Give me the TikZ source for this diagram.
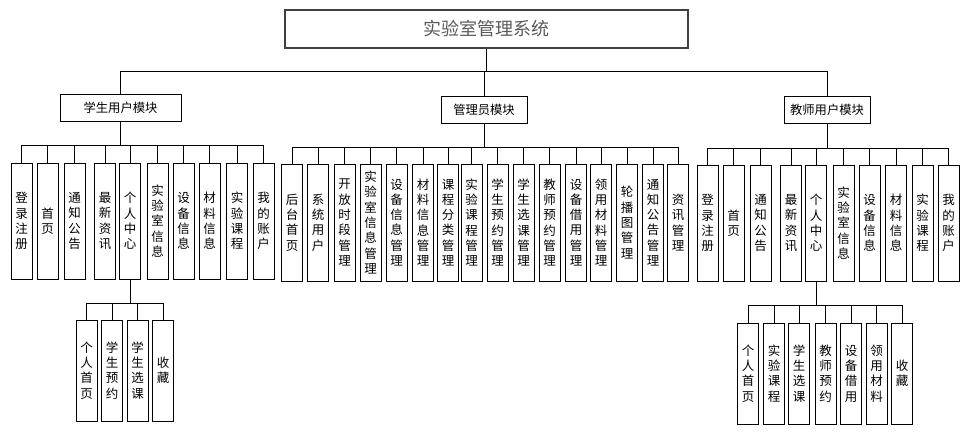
\documentclass[tikz,border=0pt]{standalone}
\usepackage{fontspec}
\newfontfamily\cjk{Noto Sans CJK SC}
\begin{document}
\begin{tikzpicture}[x=1pt,y=-1pt,
  line width=1pt,
  kid/.style={draw, minimum width=21pt, minimum height=116pt, inner sep=0pt, align=center,
    font=\cjk\fontsize{12.5}{15.3}\selectfont},
  subkid/.style={kid, minimum height=101pt},
  modbox/.style={draw, minimum height=27pt, inner sep=2pt, font=\cjk\fontsize{12.3}{14}\selectfont},
  titlebox/.style={draw=black!75, line width=1.2pt, minimum width=403pt, minimum height=38pt,
    font=\cjk\fontsize{18}{20}\selectfont, text=black!65}
]
\useasboundingbox (0,0) rectangle (973,434);

% top
\node[titlebox] (top) at (486.5,29) {实验室管理系统};
\coordinate (tbus) at (0,71);

% modules
\node[modbox, minimum width=121pt] (lm) at (120.5,107.5) {学生用户模块};
\node[modbox, minimum width=86pt] (am) at (484,110) {管理员模块};
\node[modbox, minimum width=86pt] (tm) at (827,110) {教师用户模块};

\draw (top.south) -- (top.south |- tbus);
\draw (lm.north |- tbus) -- (tm.north |- tbus);
\foreach \m in {lm,am,tm} \draw (\m.north) -- (\m.north |- tbus);

% student children
\coordinate (lbus) at (0,145);
\foreach \x/\t [count=\i] in {
  21.5/登\\录\\注\\册,
  47.5/首\\页,
  74.5/通\\知\\公\\告,
  105/最\\新\\资\\讯,
  130/个\\人\\中\\心,
  157.5/实\\验\\室\\信\\息,
  183.5/设\\备\\信\\息,
  209.5/材\\料\\信\\息,
  237/实\\验\\课\\程,
  263.5/我\\的\\账\\户}
  \node[kid] (l\i) at (\x,221) {\t};
\draw (lm.south) -- (lm.south |- lbus);
\draw (l1.north |- lbus) -- (l10.north |- lbus);
\foreach \i in {1,...,10} \draw (l\i.north) -- (l\i.north |- lbus);

% student personal center
\coordinate (lsbus) at (0,303);
\foreach \x/\t [count=\i] in {
  86.5/个\\人\\首\\页,
  112/学\\生\\预\\约,
  137.5/学\\生\\选\\课,
  163/收\\藏}
  \node[subkid] (ls\i) at (\x,370.5) {\t};
\draw (l5.south) -- (l5.south |- lsbus);
\draw (ls1.north |- lsbus) -- (ls4.north |- lsbus);
\foreach \i in {1,...,4} \draw (ls\i.north) -- (ls\i.north |- lsbus);

% admin children
\coordinate (abus) at (0,147);
\foreach \x/\t [count=\i] in {
  292/后\\台\\首\\页,
  318/系\\统\\用\\户,
  344.5/开\\放\\时\\段\\管\\理,
  370.5/实\\验\\室\\信\\息\\管\\理,
  396.5/设\\备\\信\\息\\管\\理,
  423/材\\料\\信\\息\\管\\理,
  448/课\\程\\分\\类\\管\\理,
  471.5/实\\验\\课\\程\\管\\理,
  497.5/学\\生\\预\\约\\管\\理,
  523.5/学\\生\\选\\课\\管\\理,
  549.5/教\\师\\预\\约\\管\\理,
  576/设\\备\\借\\用\\管\\理,
  601/领\\用\\材\\料\\管\\理,
  627/轮\\播\\图\\管\\理,
  653/通\\知\\公\\告\\管\\理,
  678/资\\讯\\管\\理}
  \node[kid, minimum height=117pt] (a\i) at (\x,222.5) {\t};
\draw (am.south) -- (am.south |- abus);
\draw (a1.north |- abus) -- (a16.north |- abus);
\foreach \i in {1,...,16} \draw (a\i.north) -- (a\i.north |- abus);

% teacher children
\coordinate (tbus2) at (0,148);
\foreach \x/\t [count=\i] in {
  707.5/登\\录\\注\\册,
  733.5/首\\页,
  760.5/通\\知\\公\\告,
  791/最\\新\\资\\讯,
  816/个\\人\\中\\心,
  843.5/实\\验\\室\\信\\息,
  869.5/设\\备\\信\\息,
  896/材\\料\\信\\息,
  922.5/实\\验\\课\\程,
  948.5/我\\的\\账\\户}
  \node[kid] (t\i) at (\x,223) {\t};
\draw (tm.south) -- (tm.south |- tbus2);
\draw (t1.north |- tbus2) -- (t10.north |- tbus2);
\foreach \i in {1,...,10} \draw (t\i.north) -- (t\i.north |- tbus2);

% teacher personal center
\coordinate (tsbus) at (0,305);
\foreach \x/\t [count=\i] in {
  748/个\\人\\首\\页,
  774/实\\验\\课\\程,
  799/学\\生\\选\\课,
  825.5/教\\师\\预\\约,
  851/设\\备\\借\\用,
  876.5/领\\用\\材\\料,
  902/收\\藏}
  \node[subkid] (ts\i) at (\x,373.5) {\t};
\draw (t5.south) -- (t5.south |- tsbus);
\draw (ts1.north |- tsbus) -- (ts7.north |- tsbus);
\foreach \i in {1,...,7} \draw (ts\i.north) -- (ts\i.north |- tsbus);
\end{tikzpicture}
\end{document}
